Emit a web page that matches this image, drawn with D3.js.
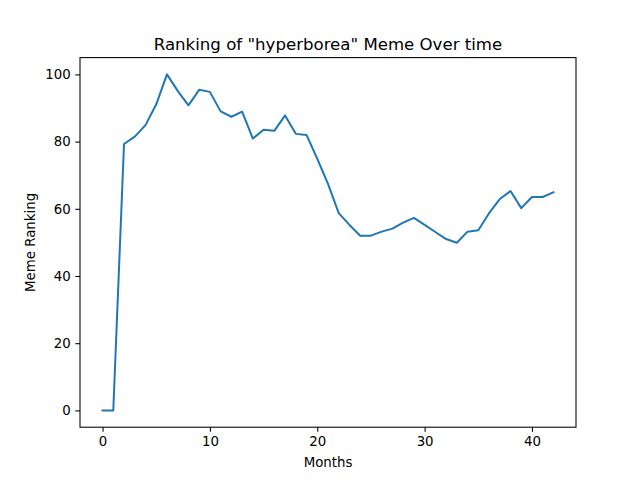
<!DOCTYPE html>
<html>
<head>
<meta charset="utf-8">
<script src="https://cdn.jsdelivr.net/npm/d3@7"></script>
<style>
  body { margin: 0; background: #fff; }
  svg { display: block; font-family: "DejaVu Sans", sans-serif; }
</style>
</head>
<body>
<svg id="chart" width="640" height="480"></svg>
<script>
(function() {
  'use strict';

  // ranking per month
  var months = d3.range(0, 43);
  var ranking = [
    0, 0, 79.3, 81.5, 84.9, 91.1, 100, 95.1, 90.8, 95.4,
    94.8, 89.0, 87.4, 88.9, 80.9, 83.5, 83.2, 87.8, 82.3, 82.0,
    74.9, 67.4, 58.7, 55.2, 52.0, 52.0, 53.2, 54.1, 55.9, 57.3,
    55.2, 53.1, 51.0, 49.9, 53.2, 53.6, 58.7, 62.9, 65.3, 60.2,
    63.5, 63.5, 64.9
  ];
  var xTicks = [0, 10, 20, 30, 40];
  var yTicks = [0, 20, 40, 60, 80, 100];

  var title = 'Ranking of "hyperborea" Meme Over time';
  var xLabel = 'Months';
  var yLabel = 'Meme Ranking';

  var left = 80, right = 576, top = 57.6, bottom = 427.2;
  var svg = d3.select('#chart');

  // matplotlib-style 5% margins
  var xExt = d3.extent(months), yExt = d3.extent(ranking);
  var xPad = (xExt[1] - xExt[0]) * 0.05, yPad = (yExt[1] - yExt[0]) * 0.05;
  var x = d3.scaleLinear().domain([xExt[0] - xPad, xExt[1] + xPad]).range([left, right]);
  var y = d3.scaleLinear().domain([yExt[0] - yPad, yExt[1] + yPad]).range([bottom, top]);

  var line = d3.line()
    .x(function(d, i) { return x(months[i]); })
    .y(function(d) { return y(d); });

  svg.append('path')
    .datum(ranking)
    .attr('d', line)
    .attr('fill', 'none')
    .attr('stroke', '#1f77b4')
    .attr('stroke-width', 2)
    .attr('stroke-linejoin', 'round')
    .attr('stroke-linecap', 'square');

  var xAxis = d3.axisBottom(x).tickValues(xTicks).tickSize(4.67).tickPadding(4.2).tickSizeOuter(0);
  var yAxis = d3.axisLeft(y).tickValues(yTicks).tickSize(4.67).tickPadding(4.7).tickSizeOuter(0);

  var gx = svg.append('g').attr('transform', 'translate(0,' + bottom + ')').call(xAxis);
  var gy = svg.append('g').attr('transform', 'translate(' + left + ',0)').call(yAxis);
  [gx, gy].forEach(function(g) {
    g.select('.domain').remove();
    g.selectAll('line').attr('stroke', '#000').attr('stroke-width', 1.07);
    g.selectAll('text').attr('font-size', 13.33).attr('fill', '#000')
      .attr('font-family', '"DejaVu Sans", sans-serif');
  });

  // frame
  svg.append('rect')
    .attr('x', left).attr('y', top)
    .attr('width', right - left).attr('height', bottom - top)
    .attr('fill', 'none').attr('stroke', '#000').attr('stroke-width', 1.07);

  svg.append('text')
    .attr('x', (left + right) / 2).attr('y', 50)
    .attr('text-anchor', 'middle')
    .attr('font-size', 16.6)
    .text(title);

  svg.append('text')
    .attr('x', (left + right) / 2).attr('y', 467)
    .attr('text-anchor', 'middle')
    .attr('font-size', 13.33)
    .text(xLabel);

  svg.append('text')
    .attr('transform', 'translate(35,' + (top + bottom) / 2 + ') rotate(-90)')
    .attr('text-anchor', 'middle')
    .attr('font-size', 13.33)
    .text(yLabel);
})();
</script>
</body>
</html>
